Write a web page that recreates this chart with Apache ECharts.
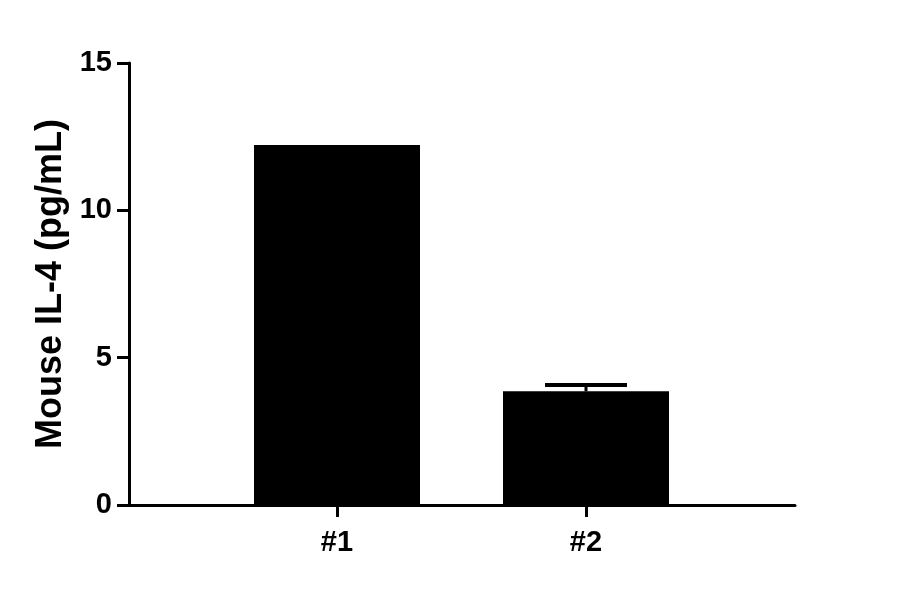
<!DOCTYPE html>
<html>
<head>
<meta charset="utf-8">
<script src="https://cdn.jsdelivr.net/npm/echarts@6/dist/echarts.min.js"></script>
<style>
  html, body { margin: 0; padding: 0; background: #fff; }
  #main { width: 900px; height: 594px; }
</style>
</head>
<body>
<div id="main"></div>
<script>
// data
var sampleNames = ['#1', '#2'];
var il4Means = [12.22, 3.86];
var il4ErrTop = [12.22, 4.07];

var chart = echarts.init(document.getElementById('main'));
var fontFam = '"Liberation Sans", Arial, sans-serif';

var errData = sampleNames.map(function (name, i) {
  return [i, il4Means[i], il4ErrTop[i]];
});

var option = {
  animation: false,
  backgroundColor: '#fff',
  grid: [
    // outer frame: y axis and the long x axis line
    { left: 129, width: 666, top: 63, height: 442 },
    // inner grid holding the bars
    { left: 212.5, width: 498, top: 63, height: 442 }
  ],
  xAxis: [
    {
      gridIndex: 0, type: 'value', min: 0, max: 1,
      axisLine: { show: true, onZero: false, lineStyle: { color: '#000', width: 3 } },
      axisTick: { show: false }, axisLabel: { show: false }, splitLine: { show: false }
    },
    {
      gridIndex: 1, type: 'category', data: sampleNames,
      axisLine: { show: false },
      axisTick: { show: true, alignWithLabel: true, length: 12, lineStyle: { color: '#000', width: 3 } },
      axisLabel: { color: '#000', fontSize: 29, fontWeight: 'bold', fontFamily: fontFam, margin: 23 },
      splitLine: { show: false }
    }
  ],
  yAxis: [
    {
      gridIndex: 0, type: 'value', min: 0, max: 15, interval: 5,
      name: 'Mouse IL-4 (pg/mL)', nameLocation: 'middle', nameGap: 57, nameRotate: 90,
      nameTextStyle: { color: '#000', fontSize: 36, fontWeight: 'bold', fontFamily: fontFam },
      axisLine: { show: true, lineStyle: { color: '#000', width: 3 } },
      axisTick: { show: true, length: 12, lineStyle: { color: '#000', width: 3 } },
      axisLabel: { color: '#000', fontSize: 29, fontWeight: 'bold', fontFamily: fontFam, margin: 17 },
      splitLine: { show: false }
    },
    {
      gridIndex: 1, type: 'value', min: 0, max: 15,
      show: false
    }
  ],
  series: [
    {
      type: 'bar', xAxisIndex: 1, yAxisIndex: 1,
      data: il4Means, barWidth: 166,
      itemStyle: { color: '#000' }
    },
    {
      type: 'custom', xAxisIndex: 1, yAxisIndex: 1,
      data: errData, z: 3,
      renderItem: function (params, api) {
        var base = api.coord([api.value(0), api.value(1)]);
        var top = api.coord([api.value(0), api.value(2)]);
        if (base[1] - top[1] < 1) return null;
        return {
          type: 'group',
          children: [
            { type: 'line', shape: { x1: base[0], y1: base[1], x2: top[0], y2: top[1] },
              style: { stroke: '#000', lineWidth: 3 } },
            { type: 'line', shape: { x1: top[0] - 41, y1: top[1], x2: top[0] + 41, y2: top[1] },
              style: { stroke: '#000', lineWidth: 4 } }
          ]
        };
      }
    }
  ]
};

chart.setOption(option);
</script>
</body>
</html>
